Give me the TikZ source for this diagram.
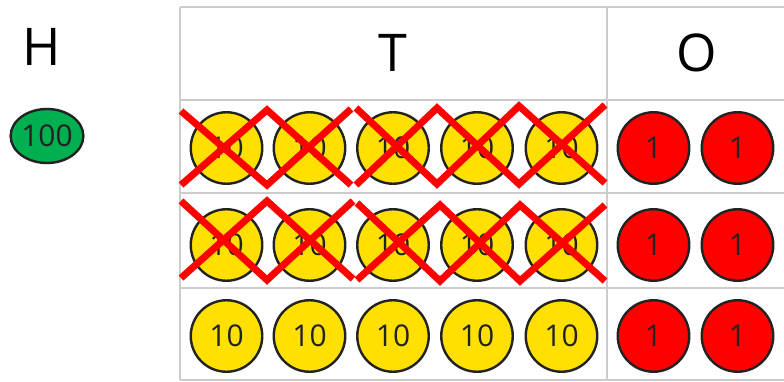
\documentclass[tikz,border=0pt]{standalone}
\usepackage{fontspec}
\setmainfont{Open Sans}
\usetikzlibrary{shapes.geometric}
\definecolor{coinyellow}{HTML}{FFE000}
\definecolor{coinred}{HTML}{FF0000}
\definecolor{coingreen}{HTML}{00B050}
\definecolor{gridgray}{HTML}{CCCCCC}
\definecolor{ink}{HTML}{222222}
\begin{document}
\begin{tikzpicture}[x=1pt,y=-1pt,
  coin/.style={circle,draw=ink,line width=2.4pt,minimum size=71.5pt,inner sep=0pt,
    font=\fontsize{30}{30}\selectfont,text=ink},
  ten/.style={coin,fill=coinyellow},
  one/.style={coin,fill=coinred},
  hundred/.style={ellipse,draw=ink,line width=2.4pt,fill=coingreen,minimum width=72pt,minimum height=54pt,inner sep=0pt,
    font=\fontsize{30}{30}\selectfont,text=ink},
  gridline/.style={draw=gridgray,line width=2.4pt},
  head/.style={font=\fontsize{52}{52}\selectfont,text=black,inner sep=0pt},
  cross/.style={draw=red,line width=7pt,line join=miter,line cap=butt}]
\useasboundingbox (0,0) rectangle (784,382);
\fill[white] (0,0) rectangle (784,382);
% grid
\draw[gridline] (180,7) -- (784,7);
\draw[gridline] (180,100) -- (784,100);
\draw[gridline] (180,193) -- (784,193);
\draw[gridline] (180,288) -- (784,288);
\draw[gridline] (180,380) -- (784,380);
\draw[gridline] (180,7) -- (180,380);
\draw[gridline] (607,7) -- (607,380);
% headers
\node[head] (H) at (42,47) {H};
\node[head] (T) at (393,53) {T};
\node[head] (O) at (697,53) {O};
\node[hundred] (g) at (47,136) {100};
% coins
\foreach \r/\y in {1/148,2/245,3/336}{
  \foreach \c/\x in {1/226.5,2/309.5,3/393,4/477,5/561.5}{
    \node[ten] (t\r\c) at (\x,\y) {10};
  }
  \node[one] (o\r1) at (653.5,\y) {1};
  \node[one] (o\r2) at (737.5,\y) {1};
}
% crosses row 1
\draw[cross] (181,111) -- (267,185) -- (351,109);
\draw[cross] (181,185) -- (267,110) -- (351,185);
\draw[cross] (356,108) -- (437,184) -- (519,106) -- (605,183);
\draw[cross] (356,185) -- (437,108) -- (519,184) -- (605,105);
% crosses row 2
\draw[cross] (181,201) -- (267,280) -- (353,201);
\draw[cross] (181,278) -- (267,201) -- (353,279);
\draw[cross] (357,203) -- (440,281) -- (520,205) -- (605,281);
\draw[cross] (357,280) -- (440,205) -- (520,281) -- (605,205);
\end{tikzpicture}
\end{document}
